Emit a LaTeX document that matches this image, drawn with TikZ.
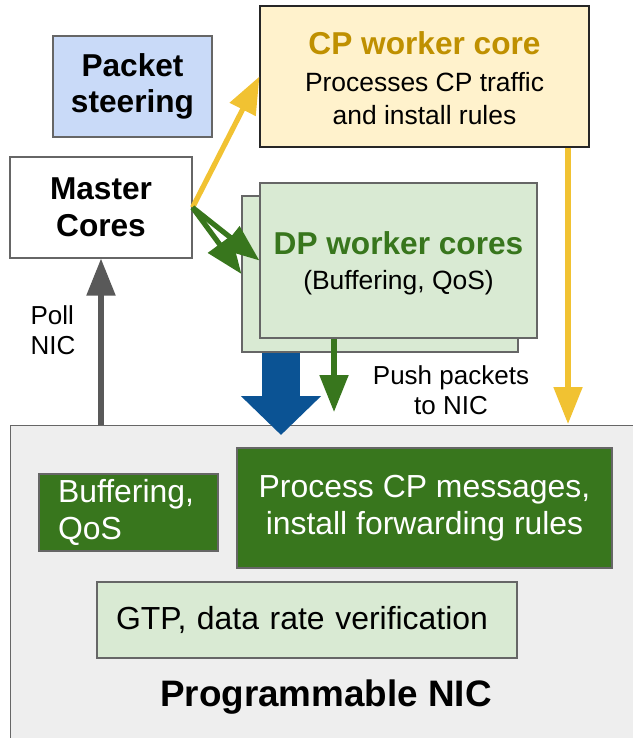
\documentclass[tikz,border=0pt]{standalone}
\usepackage{fontspec}
\setmainfont{Liberation Sans}
\usetikzlibrary{arrows.meta}

\newcommand{\pu}{0.25mm}

\begin{document}
\begin{tikzpicture}[x=0.25mm,y=-0.25mm,
	box/.style={draw=BRD,line width=0.8pt,inner sep=0pt,align=center},
	ttl/.style={font=\fontsize{22.5}{26}\selectfont\bfseries,align=center},
	txt/.style={font=\fontsize{18.8}{23.5}\selectfont,align=center},
	nictxt/.style={font=\fontsize{22.7}{26.3}\selectfont,align=center},
	link/.style={line width=1.3mm,-{Triangle[length=9.25mm,width=7mm]}}]
\definecolor{PKT}{HTML}{C9DAF8}
\definecolor{CPW}{HTML}{FFF2CC}
\definecolor{CPT}{HTML}{BF9000}
\definecolor{CPB}{HTML}{262626}
\definecolor{DPW}{HTML}{D9EAD3}
\definecolor{DPT}{HTML}{38761D}
\definecolor{NIC}{HTML}{EEEEEE}
\definecolor{BRD}{HTML}{666666}
\definecolor{GRY}{HTML}{595959}
\definecolor{YEL}{HTML}{F1C232}
\definecolor{BLU}{HTML}{0B5394}

\clip (0,0) rectangle (633,738);

% Programmable NIC
\node[box, fill=NIC, minimum width=650*\pu, minimum height=335*\pu, anchor=north west] (nic) at (10,425) {};
\node[font=\fontsize{26.2}{30}\selectfont\bfseries] (nicname) at (326,697) {Programmable NIC};
\node[box, nictxt, fill=DPT, text=white, text width=141*\pu, inner xsep=19*\pu, align=left, minimum height=77*\pu] (buf) at (128.5,512.5) {Buffering,\\QoS};
\node[box, nictxt, fill=DPT, text=white, minimum width=375*\pu, minimum height=120*\pu] (cpm) at (424.5,508) {Process CP messages,\\install forwarding rules};
\node[box, nictxt, fill=DPW, text width=382*\pu, inner xsep=19*\pu, align=left, minimum height=76*\pu] (gtp) at (307,620) {GTP, data rate verification};

% Cores
\node[box, ttl, fill=PKT, minimum width=159*\pu, minimum height=101*\pu] (pkt) at (132.5,86.5) {Packet\\steering};
\node[box, ttl, fill=white, minimum width=182*\pu, minimum height=101*\pu] (mst) at (101,207.5) {Master\\Cores};

\node[box, draw=CPB, fill=CPW, minimum width=329*\pu, minimum height=141*\pu] (cpw) at (424.5,76.5) {};
\node[ttl, text=CPT] (cpwname) at (424.5,43) {CP worker core};
\node[txt] (cpwtext) at (424.5,98.5) {Processes CP traffic\\and install rules};

\node[box, fill=DPW, minimum width=276*\pu, minimum height=156*\pu] (dpb) at (380,274) {};
\node[box, fill=DPW, minimum width=277*\pu, minimum height=155*\pu] (dpf) at (398.5,260.5) {};
\node[ttl, text=DPT] (dpfname) at (398.5,243) {DP worker cores};
\node[txt] (dpftext) at (398.5,283) {(Buffering, QoS)};

% Labels
\node[txt, align=left, font=\fontsize{18.5}{21.3}\selectfont] (poll) at (53,330) {Poll\\NIC};
\node[txt, font=\fontsize{18.5}{21.3}\selectfont] (push) at (451,390) {Push packets\\to NIC};

% Arrows
\coordinate (blk) at (281,435);
\coordinate (pushend) at (334,412);
\coordinate (cpend) at (568,424);

\draw[link, GRY] (nic.north -| mst.south) -- (mst.south);
\draw[link, YEL] (mst.east) -- (cpw.west);
\draw[link, DPT] (mst.east) -- (dpb.west);
\draw[link, DPT] (mst.east) -- (dpf.west);
\draw[BLU, line width=9.5mm, -{Triangle[length=9.75mm,width=19.5mm]}] (dpb.south -| blk) -- (blk);
\draw[link, DPT] (dpf.south -| pushend) -- (pushend);
\draw[link, YEL] (cpw.south -| cpend) -- (cpend);

\end{tikzpicture}
\end{document}
